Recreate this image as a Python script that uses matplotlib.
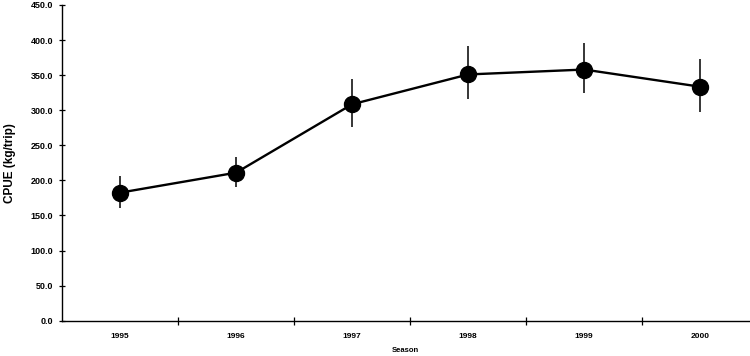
import matplotlib
matplotlib.use("Agg")
import matplotlib.pyplot as plt
import numpy as np

seasons = ["1995", "1996", "1997", "1998", "1999", "2000"]
cpue = [182.5, 211.0, 308.5, 351.0, 358.0, 333.5]
err_low = [160.0, 191.0, 276.0, 316.0, 324.0, 297.0]
err_high = [206.0, 233.5, 344.0, 391.5, 396.0, 372.5]
y_ticks = [0, 50, 100, 150, 200, 250, 300, 350, 400, 450]

plt.rcParams['font.family'] = ['Liberation Sans', 'DejaVu Sans']

fig = plt.figure(figsize=(7.5, 3.56), dpi=100)
W, H = 750, 356
left, right = 62, 749
bottom, top = 320.7, 5
ax = fig.add_axes([left / W, (H - bottom) / H, (right - left) / W, (bottom - top) / H])

x = np.arange(len(seasons))
cpue_a = np.array(cpue)
yerr = np.vstack([cpue_a - np.array(err_low), np.array(err_high) - cpue_a])
ax.errorbar(x, cpue_a, yerr=yerr, fmt='none', ecolor='black', elinewidth=1.1, capsize=0, zorder=2)
ax.plot(x, cpue_a, color='black', linewidth=1.7, marker='o', markersize=11.5,
        markerfacecolor='black', markeredgecolor='black', zorder=3)

ax.set_xlim(-0.5, 5.42)
ax.set_ylim(0, 450)
ax.set_yticks(y_ticks)
ax.set_yticklabels([f"{v:.1f}" for v in y_ticks], fontsize=6.5, fontweight='bold')
ax.set_xticks(x)
ax.set_xticklabels(seasons, fontsize=6, fontweight='bold')
ax.set_xticks(np.arange(len(seasons) - 1) + 0.5, minor=True)
ax.tick_params(axis='x', which='major', length=0, pad=9)
ax.tick_params(axis='x', which='minor', direction='inout', length=6, width=0.9)
ax.tick_params(axis='y', direction='inout', length=5, width=0.9, pad=4)

for s in ['top', 'right']:
    ax.spines[s].set_visible(False)
for s in ['left', 'bottom']:
    ax.spines[s].set_linewidth(1.0)

ax.set_ylabel("CPUE (kg/trip)", fontsize=8.5, fontweight='bold', labelpad=10)
ax.set_xlabel("Season", fontsize=5.5, fontweight='bold', labelpad=5)

fig.savefig("out.png", dpi=100)
